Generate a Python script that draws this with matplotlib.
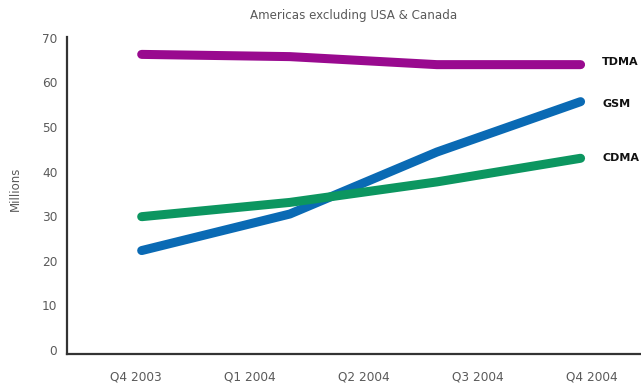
import numpy as np
import matplotlib.pyplot as plt

# quarterly subscriber counts (millions)
quarters = ['Q4 2003', 'Q1 2004', 'Q2 2004', 'Q3 2004', 'Q4 2004']
x_pos = [0.05, 1.35, 2.64, 3.9]  # where the series points sit along the quarter axis
tdma = [66.3, 65.8, 64.0, 64.0]
gsm = [22.3, 30.5, 44.4, 55.7]
cdma = [29.9, 33.1, 37.7, 43.0]

series = [('TDMA', tdma, '#990a8f', 2), ('GSM', gsm, '#0a6ab4', -2), ('CDMA', cdma, '#0c9660', 0)]

fig = plt.figure(figsize=(6.41, 3.83), dpi=100)
ax = fig.add_axes([67/641, 1-354/383, (641-67)/641, (354-37)/383])

for name, vals, col, dy in series:
    ax.plot(x_pos, vals, color=col, lw=6.5, solid_capstyle='round', solid_joinstyle='round')
    ax.annotate(name, (x_pos[-1], vals[-1]), xytext=(15.5, dy), textcoords='offset points',
                fontsize=8, fontweight='bold', color='#111111', va='center', ha='left',
                annotation_clip=False)

ax.set_xlim(-0.605, 4.43)
ax.set_ylim(-0.9, 70.2)
ax.set_xticks(np.arange(len(quarters)))
ax.set_xticklabels(quarters)
ax.set_yticks(np.arange(0, 71, 10))
ax.tick_params(length=0, labelsize=8.7, labelcolor='#5a5a5a')
ax.tick_params(axis='x', pad=12)
ax.tick_params(axis='y', pad=7)

for s in ['top', 'right']:
    ax.spines[s].set_visible(False)
for s in ['left', 'bottom']:
    ax.spines[s].set_color('#333333')
    ax.spines[s].set_linewidth(1.6)

ax.set_ylabel('Millions', fontsize=8.5, color='#5a5a5a')
ax.yaxis.set_label_coords(-0.078, 0.52)
fig.text(354/641, 1-15/383, 'Americas excluding USA & Canada', ha='center', va='center',
         fontsize=8.6, color='#5a5a5a')

fig.savefig('out.png', dpi=100)
